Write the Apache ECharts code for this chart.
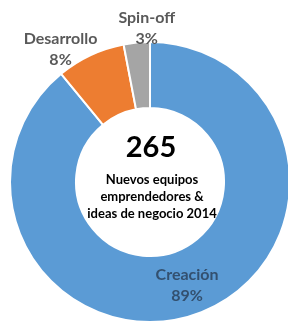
<!DOCTYPE html>
<html><head><meta charset="utf-8">
<script src="https://cdn.jsdelivr.net/npm/echarts@6/dist/echarts.min.js"></script>
<style>html,body{margin:0;padding:0;background:#fff}#c{width:288px;height:324px}</style>
</head><body><div id="c"></div>
<script>
const categories = ['Creación', 'Desarrollo', 'Spin-off'];
const values = [236, 21, 8];
const total = 265;
const centerLines = ['Nuevos equipos', 'emprendedores &', 'ideas de negocio 2014'];
const colors = ['#5B9BD5', '#ED7D31', '#A5A5A5'];
const labelOffsets = [[0, 0], [17, -6], [57, -14]];

const chart = echarts.init(document.getElementById('c'), null, {renderer: 'canvas'});
const font = 'Lato, "Open Sans", sans-serif';
const labelStyle = function (color) {
  return {width: 84, align: 'center', fontFamily: font, fontWeight: 'bold', fontSize: 16, lineHeight: 21, color: color};
};
chart.setOption({
  animation: false,
  series: [{
    type: 'pie',
    center: [150, 182],
    radius: [74, 140],
    startAngle: 90,
    clockwise: true,
    avoidLabelOverlap: false,
    itemStyle: {borderColor: '#fff', borderWidth: 2},
    labelLine: {show: false, length: 0, length2: 0},
    label: {
      formatter: function (p) { return '{a|' + p.name + '}\n{a|' + Math.round(p.percent) + '%}'; },
      rich: {a: labelStyle('#595959')}
    },
    labelLayout: function (p) {
      const o = labelOffsets[p.dataIndex];
      return {dx: o[0], dy: o[1]};
    },
    data: categories.map(function (c, i) {
      const d = {name: c, value: values[i], itemStyle: {color: colors[i]}};
      if (i === 0) {
        d.label = {position: 'inside', rich: {a: labelStyle('#33506F')}};
      } else {
        d.label = {position: 'outside'};
      }
      return d;
    })
  }],
  graphic: [
    {type: 'text', z: 100, x: 151, y: 148, style: {text: String(total), align: 'center', verticalAlign: 'middle', font: 'bold 29px ' + font, fill: '#000'}},
    {type: 'text', z: 100, x: 152, y: 197, style: {text: centerLines.join('\n'), align: 'center', verticalAlign: 'middle', font: 'bold 13px ' + font, lineHeight: 17, fill: '#000'}}
  ]
});
</script></body></html>
